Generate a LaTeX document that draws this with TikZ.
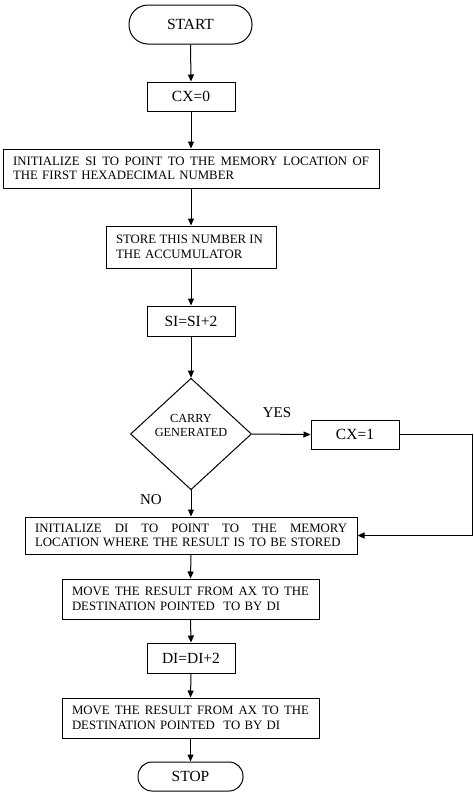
\documentclass[tikz,border=0pt]{standalone}
\usepackage{fontspec}
\setmainfont{Liberation Serif}
\usetikzlibrary{arrows.meta,shapes.geometric}
\begin{document}
\begin{tikzpicture}[x=1pt,y=-1pt,
  box/.style={draw, line width=1pt, inner sep=0pt, font=\fontsize{15.5}{18}\selectfont},
  tbox/.style={draw, line width=1pt, inner xsep=10pt, inner ysep=0pt, align=left, font=\fontsize{12.8}{14.5}\selectfont},
  term/.style={draw, line width=1pt, inner sep=0pt, font=\fontsize{15.5}{18}\selectfont},
  decision/.style={draw, diamond, line width=1pt, inner sep=0pt, align=center, font=\fontsize{12.3}{14}\selectfont},
  arr/.style={-{Triangle[length=7pt,width=6pt]}, line width=1pt},
  lbl/.style={font=\fontsize{15}{18}\selectfont, inner sep=0pt}]
\fill[white] (0,0) rectangle (474,796);
\useasboundingbox (0,0) rectangle (474,796);

\node[term, minimum width=123pt, minimum height=39pt, rounded corners=19pt] (start) at (190.5,24.5) {START};
\node[box, minimum width=88pt, minimum height=29pt] (cx0) at (191,96.5) {CX=0};
\node[tbox, text width=356pt, minimum height=39pt] (si) at (191,168.5)
  {\hbox to 356pt{INITIALIZE\hfill SI\hfill TO\hfill POINT\hfill TO\hfill THE\hfill MEMORY\hfill LOCATION\hfill OF}\\THE FIRST HEXADECIMAL NUMBER};
\node[tbox, text width=150pt, minimum height=42pt] (store) at (191,247)
  {\hbox to 147pt{STORE\hfill THIS\hfill NUMBER\hfill IN}\\THE ACCUMULATOR};
\node[box, minimum width=88pt, minimum height=30pt] (si2) at (191,321) {SI=SI+2};
\node[decision, minimum width=121pt, minimum height=108pt] (dec) at (191,434) {CARRY\\GENERATED\\[3pt]};
\node[box, minimum width=88pt, minimum height=29pt] (cx1) at (355,434.5) {CX=1};
\node[tbox, text width=312pt, minimum height=37pt] (di) at (191,535.5)
  {\hbox to 312pt{INITIALIZE\hfill DI\hfill TO\hfill POINT\hfill TO\hfill THE\hfill MEMORY}\\LOCATION WHERE THE RESULT IS TO BE STORED};
\node[tbox, text width=237pt, minimum height=40pt] (mv1) at (190.5,599)
  {\hbox to 237pt{MOVE\hfill THE\hfill RESULT\hfill FROM\hfill AX\hfill TO\hfill THE}\\DESTINATION POINTED\ \ TO BY DI};
\node[box, minimum width=88pt, minimum height=30pt] (di2) at (191,658) {DI=DI+2};
\node[tbox, text width=237pt, minimum height=40pt] (mv2) at (190.5,718)
  {\hbox to 237pt{MOVE\hfill THE\hfill RESULT\hfill FROM\hfill AX\hfill TO\hfill THE}\\DESTINATION POINTED\ \ TO BY DI};
\node[term, minimum width=105pt, minimum height=29pt, rounded corners=14pt] (stop) at (190.5,776.5) {STOP};

\node[lbl] (yes) at (277,413) {YES};
\node[lbl] (no) at (151,500) {NO};
\coordinate (corner) at (472,434.5);

\draw[arr] (start.south) -- (cx0.north);
\draw[arr] (cx0.south) -- (si.north);
\draw[arr] (si.south) -- (store.north);
\draw[arr] (store.south) -- (si2.north);
\draw[arr] (si2.south) -- (dec.north);
\draw[arr] (dec.east) -- (cx1.west);
\draw[arr] (cx1.east) -- (corner) |- (di.east);
\draw[arr] (dec.south) -- (di.north);
\draw[arr] (di.south) -- (mv1.north);
\draw[arr] (mv1.south) -- (di2.north);
\draw[arr] (di2.south) -- (mv2.north);
\draw[arr] (mv2.south) -- (stop.north);
\end{tikzpicture}
\end{document}
